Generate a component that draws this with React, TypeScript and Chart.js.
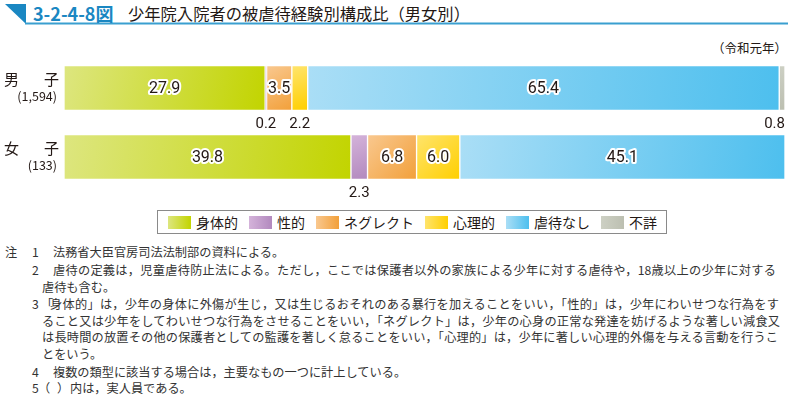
import React, { useEffect, useRef } from "react";
import { Chart, registerables } from "chart.js";

Chart.register(...registerables);

const categories = ["男子", "女子"];
const categoryCounts = ["(1,594)", "(133)"];
const seriesLabels = ["身体的", "性的", "ネグレクト", "心理的", "虐待なし", "不詳"];
const physicalValues = [27.9, 39.8];
const sexualValues = [0.2, 2.3];
const neglectValues = [3.5, 6.8];
const psychologicalValues = [2.2, 6.0];
const noAbuseValues = [65.4, 45.1];
const unknownValues = [0.8, 0];
const seriesValues = [physicalValues, sexualValues, neglectValues, psychologicalValues, noAbuseValues, unknownValues];
const seriesColors: [string, string][] = [
  ["#dde67f", "#c2d400"],
  ["#d4b3da", "#b289be"],
  ["#f9c88f", "#f2a03a"],
  ["#ffe46c", "#ffcf00"],
  ["#aadef6", "#4dbfee"],
  ["#cdd0c4", "#bcbfb1"],
];

const notes: { num?: string; pre?: string; open?: string; close?: string; text: string; left: number; top: number; width?: number }[] = [
  { pre: "注", num: "1", text: "法務省大臣官房司法法制部の資料による。", left: 53, top: 252 },
  { num: "2", text: "虐待の定義は，児童虐待防止法による。ただし，ここでは保護者以外の家族による少年に対する虐待や，18歳以上の少年に対する", left: 53, top: 270, width: 723 },
  { text: "虐待も含む。", left: 42, top: 287 },
  { num: "3", open: "「", text: "身体的」は，少年の身体に外傷が生じ，又は生じるおそれのある暴行を加えることをいい，「性的」は，少年にわいせつな行為をす", left: 50, top: 304, width: 729 },
  { text: "ること又は少年をしてわいせつな行為をさせることをいい，「ネグレクト」は，少年の心身の正常な発達を妨げるような著しい減食又", left: 42, top: 321, width: 738 },
  { text: "は長時間の放置その他の保護者としての監護を著しく怠ることをいい，「心理的」は，少年に著しい心理的外傷を与える言動を行うこ", left: 42, top: 337, width: 736 },
  { text: "とをいう。", left: 42, top: 354 },
  { num: "4", text: "複数の類型に該当する場合は，主要なもの一つに計上している。", left: 53, top: 372 },
  { num: "5", open: "（", close: "）", text: "内は，実人員である。", left: 70, top: 388 },
];

function segStart(di: number, i: number) {
  let s = 0;
  for (let k = 0; k < di; k++) s += seriesValues[k][i];
  return s;
}

const segLabelPlugin = {
  id: "segLabels",
  afterDatasetsDraw(chart: any) {
    const ctx = chart.ctx as CanvasRenderingContext2D;
    const area = chart.chartArea;
    ctx.save();
    chart.data.datasets.forEach((ds: any, di: number) => {
      const meta = chart.getDatasetMeta(di);
      meta.data.forEach((el: any, i: number) => {
        const v = ds.data[i] as number;
        if (!v) return;
        const { x, y, base, height } = el.getProps(["x", "y", "base", "height"], true);
        const cx = (x + base) / 2;
        const text = v.toFixed(1);
        ctx.textAlign = "center";
        ctx.textBaseline = "middle";
        if (v >= 3) {
          ctx.font = "16px Roboto";
          ctx.lineJoin = "round";
          ctx.lineWidth = 4;
          ctx.strokeStyle = "#ffffff";
          ctx.strokeText(text, cx, y + 1);
          ctx.fillStyle = "#231815";
          ctx.fillText(text, cx, y + 1);
        } else {
          ctx.font = "15px Roboto";
          const w = ctx.measureText(text).width;
          const tx = Math.min(cx, area.right - w / 2);
          ctx.fillStyle = "#231815";
          ctx.fillText(text, tx, y + height / 2 + 14);
        }
      });
    });
    ctx.restore();
  },
};

const catLabelPlugin = {
  id: "catLabels",
  afterDraw(chart: any) {
    const ctx = chart.ctx as CanvasRenderingContext2D;
    const yScale = chart.scales.y;
    ctx.save();
    ctx.fillStyle = "#231815";
    ctx.textBaseline = "middle";
    categories.forEach((c, i) => {
      const yc = yScale.getPixelForValue(i);
      ctx.font = "15px 'Noto Sans CJK JP'";
      ctx.textAlign = "left";
      ctx.fillText(c.charAt(0), 4, yc - 9);
      ctx.textAlign = "right";
      ctx.fillText(c.charAt(1), 59, yc - 9);
      ctx.font = "12.5px 'Noto Sans CJK JP'";
      ctx.fillText(categoryCounts[i], 57, yc + 8);
    });
    ctx.restore();
  },
};

function ChartCanvas() {
  const ref = useRef<HTMLCanvasElement>(null);
  useEffect(() => {
    if (!ref.current) return;
    const chart = new Chart(ref.current, {
      type: "bar",
      data: {
        labels: categories,
        datasets: seriesLabels.map((label, di) => ({
          label,
          data: seriesValues[di],
          backgroundColor: (ctx: any) => {
            const ch = ctx.chart;
            const [c1, c2] = seriesColors[di];
            const i = ctx.dataIndex;
            if (i == null || !ch.chartArea || !ch.scales.x) return c2;
            const s = segStart(di, i);
            const x0 = ch.scales.x.getPixelForValue(s);
            const x1 = ch.scales.x.getPixelForValue(s + seriesValues[di][i]);
            const yc = ch.scales.y.getPixelForValue(i);
            const g = ch.ctx.createLinearGradient(x0, yc - 22, x1, yc + 22);
            g.addColorStop(0, c1);
            g.addColorStop(1, c2);
            return g;
          },
          borderColor: "#ffffff",
          borderWidth: 1,
          borderSkipped: false,
          barThickness: 45,
        })),
      },
      options: {
        indexAxis: "y",
        responsive: false,
        animation: false,
        layout: { padding: { left: 64, right: 3, top: 23.5, bottom: 13.5 } },
        scales: {
          x: { display: false, stacked: true, min: 0, max: 100 },
          y: { display: false, stacked: true },
        },
        plugins: { legend: { display: false }, tooltip: { enabled: false } },
      },
      plugins: [segLabelPlugin, catLabelPlugin],
    });
    return () => chart.destroy();
  }, []);
  return (
    <canvas
      ref={ref}
      width={788}
      height={175}
      style={{ position: "absolute", left: 0, top: 30, width: 788, height: 175, display: "block" }}
    />
  );
}

export default function App() {
  const jp = "'Noto Sans CJK JP', sans-serif";
  const noteFont = 12.2;
  const noteBase = { position: "absolute" as const, fontSize: noteFont, lineHeight: "16px", color: "#333", whiteSpace: "nowrap" as const };
  return (
    <div
      style={{
        position: "fixed",
        left: 0,
        top: 0,
        width: 788,
        height: 400,
        background: "#ffffff",
        fontFamily: jp,
        color: "#231815",
        overflow: "hidden",
      }}
    >
      {/* title */}
      <svg width={788} height={30} style={{ position: "absolute", left: 0, top: 0 }}>
        <polygon points="5,4 26,4 26,24" fill="#1a87c2" />
        <rect x={25} y={22.5} width={763} height={2} fill="#3a9fd0" />
      </svg>
      <div
        style={{
          position: "absolute",
          left: 33,
          top: 2,
          fontSize: 18,
          lineHeight: "22px",
          fontWeight: 700,
          color: "#1a87c2",
          whiteSpace: "nowrap",
        }}
      >
        3-2-4-8図
      </div>
      <div
        style={{
          position: "absolute",
          left: 128,
          top: 2,
          fontSize: 16.3,
          lineHeight: "22px",
          color: "#231815",
          whiteSpace: "nowrap",
        }}
      >
        少年院入院者の被虐待経験別構成比（男女別）
      </div>
      <div
        style={{
          position: "absolute",
          right: 1,
          top: 39,
          fontSize: 12.5,
          lineHeight: "18px",
          color: "#231815",
          whiteSpace: "nowrap",
        }}
      >
        （令和元年）
      </div>

      <ChartCanvas />

      {/* legend */}
      <div
        style={{
          position: "absolute",
          left: 157,
          top: 210,
          width: 498,
          height: 22,
          border: "1px solid #8a8a8a",
          display: "flex",
          alignItems: "center",
          paddingLeft: 10,
          boxSizing: "content-box",
        }}
      >
        {seriesLabels.map((l, i) => (
          <div key={l} style={{ display: "flex", alignItems: "center", marginRight: 11 }}>
            <div
              style={{
                width: 23,
                height: 13,
                marginRight: 5,
                background: `linear-gradient(90deg, ${seriesColors[i][0]}, ${seriesColors[i][1]})`,
              }}
            />
            <span style={{ fontSize: 14, lineHeight: "18px", whiteSpace: "nowrap", color: "#231815" }}>{l}</span>
          </div>
        ))}
      </div>

      {/* notes */}
      {notes.map((n, k) => (
        <React.Fragment key={k}>
          {n.pre && <div style={{ ...noteBase, left: 5, top: n.top - 8 }}>{n.pre}</div>}
          {n.num && <div style={{ ...noteBase, left: 32, top: n.top - 8 }}>{n.num}</div>}
          {n.open && (
            <div style={{ ...noteBase, left: n.close ? 38 : 41, top: n.top - 8, width: 12, textAlign: "right" }}>{n.open}</div>
          )}
          {n.close && (
            <div style={{ ...noteBase, left: 57, top: n.top - 8, width: 12, textAlign: "left" }}>{n.close}</div>
          )}
          <div
            style={{
              ...noteBase,
              left: n.left,
              top: n.top - 8,
              width: n.width,
              whiteSpace: n.width ? "normal" : "nowrap",
              textAlign: n.width ? ("justify" as const) : undefined,
              textAlignLast: n.width ? ("justify" as const) : undefined,
              textJustify: "inter-character",
            } as any}
          >
            {n.text}
          </div>
        </React.Fragment>
      ))}
    </div>
  );
}
